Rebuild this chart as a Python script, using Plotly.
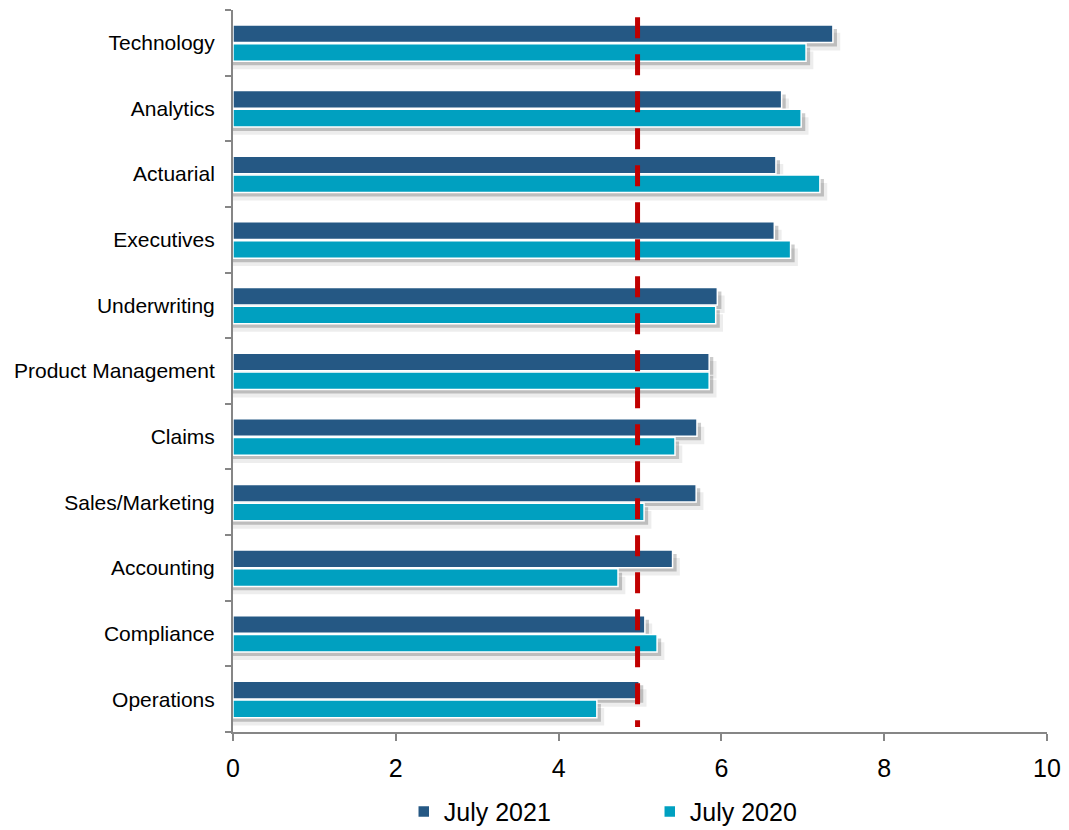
import plotly.graph_objects as go

# Functions, listed bottom to top of the chart
functions = [
    "Operations", "Compliance", "Accounting", "Sales/Marketing", "Claims",
    "Product Management", "Underwriting", "Executives", "Actuarial",
    "Analytics", "Technology",
]
july_2021 = [4.99, 5.06, 5.40, 5.69, 5.70, 5.85, 5.95, 6.65, 6.67, 6.74, 7.37]
july_2020 = [4.47, 5.21, 4.73, 5.05, 5.43, 5.85, 5.93, 6.85, 7.21, 6.98, 7.04]
benchmark = 4.97

x_ticks = [0, 2, 4, 6, 8, 10]

DARK = "#255884"
LIGHT = "#00A0C0"
RED = "#C00000"
AXIS = "#868686"
FONT = "Liberation Sans, Arial, sans-serif"

BAR_W = 0.268
DARK_OFF = 0.004
LIGHT_OFF = -0.282

fig = go.Figure()


def add_series(values, offset, color, name):
    # soft drop shadow: two translucent layers shifted down and to the right
    for dy, dx, alpha in [(0.12, 0.09, 0.07), (0.06, 0.05, 0.2)]:
        fig.add_trace(go.Bar(
            y=functions, x=[v + dx for v in values], orientation="h",
            width=BAR_W, offset=offset - dy,
            marker=dict(color=f"rgba(0,0,0,{alpha})", line=dict(width=0)),
            showlegend=False, hoverinfo="skip",
        ))
    fig.add_trace(go.Bar(
        y=functions, x=values, orientation="h", name=name,
        width=BAR_W, offset=offset,
        marker=dict(color=color, line=dict(color="white", width=1.5)),
    ))


add_series(july_2021, DARK_OFF, DARK, "July 2021")
add_series(july_2020, LIGHT_OFF, LIGHT, "July 2020")

# benchmark line, dashes drawn from the top down
fig.add_shape(
    type="line", xref="x", yref="paper",
    x0=benchmark, x1=benchmark, y0=0.99, y1=0.007,
    line=dict(color=RED, width=5, dash="21px,16px"),
    layer="above",
)

fig.update_layout(
    width=1069, height=830,
    margin=dict(l=233, r=22, t=10, b=98, autoexpand=False),
    paper_bgcolor="white", plot_bgcolor="white",
    barmode="overlay",
    font=dict(family=FONT, color="black"),
    legend=dict(
        orientation="h", xref="paper", x=0.512, xanchor="center",
        yref="container", y=0.022, yanchor="middle",
        font=dict(size=25, family=FONT, color="black"),
        entrywidth=201, entrywidthmode="pixels",
        itemclick=False, itemdoubleclick=False,
    ),
    showlegend=True,
)

fig.update_xaxes(
    range=[0, 10], tickvals=x_ticks, ticktext=[str(t) for t in x_ticks],
    showgrid=False, zeroline=False,
    showline=True, linecolor=AXIS, linewidth=2,
    ticks="outside", ticklen=7, tickwidth=2, tickcolor=AXIS,
    tickfont=dict(size=25, family=FONT, color="black"),
    ticklabelstandoff=6,
)

fig.update_yaxes(
    type="category", categoryorder="array", categoryarray=functions,
    range=[-0.5, len(functions) - 0.5],
    tickson="boundaries",
    showgrid=False, zeroline=False,
    showline=True, linecolor=AXIS, linewidth=2,
    ticks="outside", ticklen=6, tickwidth=2, tickcolor=AXIS,
    tickfont=dict(size=21, family=FONT, color="black"),
    ticklabelstandoff=12,
)

fig.write_html("out.html")
